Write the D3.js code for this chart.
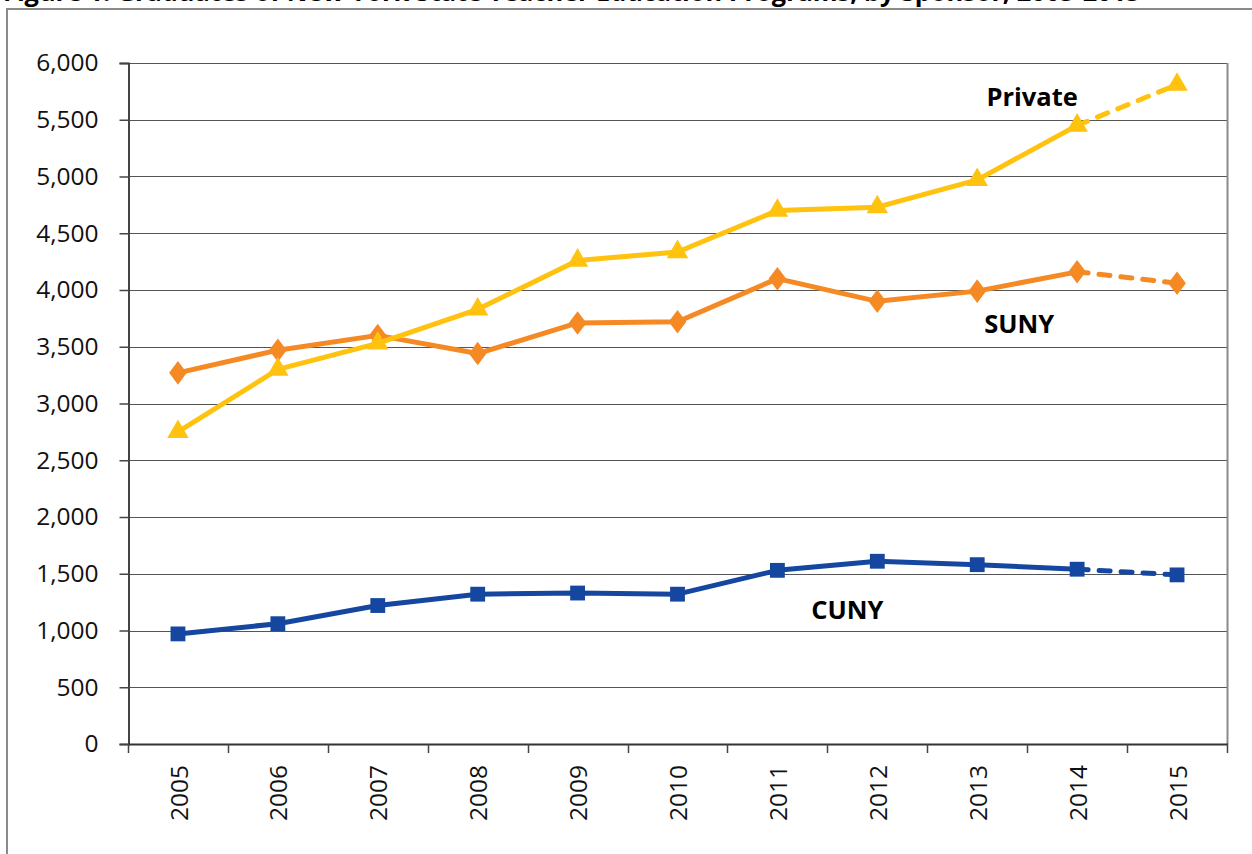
<!DOCTYPE html>
<html lang="en">
<head>
  <meta charset="UTF-8">
  <title>Graduates by Sponsor</title>
  <style>
    body { margin: 0; background: #fff; }
    svg { display: block; font-family: "Open Sans", sans-serif; }
  </style>
</head>
<body>
<svg width="1252" height="854"></svg>

<script src="https://cdn.jsdelivr.net/npm/d3@7"></script>
<script>
  // data
  var years = ['2005', '2006', '2007', '2008', '2009', '2010', '2011', '2012', '2013', '2014', '2015'];
  var cuny = [970, 1060, 1220, 1320, 1330, 1320, 1530, 1610, 1580, 1540, 1490];
  var suny = [3270, 3470, 3600, 3440, 3710, 3720, 4100, 3900, 3990, 4160, 4060];
  var priv = [2750, 3300, 3530, 3830, 4260, 4335, 4700, 4730, 4970, 5450, 5810];
  var yTicks = [0, 500, 1000, 1500, 2000, 2500, 3000, 3500, 4000, 4500, 5000, 5500, 6000];
  var title = 'Figure 1. Graduates of New York State Teacher Education Programs, by Sponsor, 2005-2015';

  var svg = d3.select('svg');
  var plot = {left: 128, right: 1227, top: 63, bottom: 744};

  var x = d3.scaleBand().domain(years).range([plot.left, plot.right]).padding(0);
  var y = d3.scaleLinear().domain([0, 6000]).range([plot.bottom, plot.top]);
  var cx = function (yr) { return x(yr) + x.bandwidth() / 2; };

  // title, mostly clipped off the top like the original
  svg.append('text').attr('x', 3).attr('y', 0.5)
    .attr('font-weight', 'bold').attr('font-size', 25.3).attr('fill', '#000')
    .text(title);

  // outer frame
  svg.append('path').attr('d', 'M7,854 V9 H1252')
    .attr('fill', 'none').attr('stroke', '#8a8a8a').attr('stroke-width', 2);

  // gridlines
  svg.append('g').selectAll('line').data(yTicks).enter().append('line')
    .attr('x1', plot.left).attr('x2', plot.right)
    .attr('y1', function (d) { return Math.round(y(d)) + 0.5; })
    .attr('y2', function (d) { return Math.round(y(d)) + 0.5; })
    .attr('stroke', '#555').attr('stroke-width', 1.2);

  // right edge of plot
  svg.append('line').attr('x1', plot.right + 0.5).attr('x2', plot.right + 0.5)
    .attr('y1', plot.top).attr('y2', plot.bottom)
    .attr('stroke', '#8a8a8a').attr('stroke-width', 2);

  // y axis
  var yAxis = d3.axisLeft(y).tickValues(yTicks).tickSize(9).tickPadding(21)
    .tickFormat(d3.format(','));
  var gy = svg.append('g').attr('transform', 'translate(' + (plot.left + 0.5) + ',0)').call(yAxis);
  gy.select('.domain').attr('stroke', '#444').attr('stroke-width', 2);
  gy.selectAll('.tick line').attr('stroke', '#444').attr('stroke-width', 1.5);
  gy.selectAll('.tick text').attr('font-size', 24.5).attr('fill', '#111')
    .attr('font-family', '"Open Sans", sans-serif');

  // x axis: ticks at band edges, labels rotated
  var gx = svg.append('g');
  gx.append('line').attr('x1', plot.left).attr('x2', plot.right + 1)
    .attr('y1', plot.bottom + 0.5).attr('y2', plot.bottom + 0.5)
    .attr('stroke', '#333').attr('stroke-width', 2);
  var edges = years.map(function (d) { return x(d); }).concat([plot.right]);
  gx.selectAll('line.tk').data(edges).enter().append('line').attr('class', 'tk')
    .attr('x1', function (d) { return Math.round(d) + 0.5; })
    .attr('x2', function (d) { return Math.round(d) + 0.5; })
    .attr('y1', plot.bottom).attr('y2', plot.bottom + 9)
    .attr('stroke', '#444').attr('stroke-width', 1.5);
  gx.selectAll('text').data(years).enter().append('text')
    .attr('transform', function (d) { return 'translate(' + (cx(d) + 1) + ',' + (plot.bottom + 21) + ') rotate(-90)'; })
    .attr('text-anchor', 'end').attr('dy', '0.35em')
    .attr('font-size', 24.5).attr('fill', '#111')
    .text(function (d) { return d; });

  // series
  var series = [
    {name: 'CUNY', values: cuny, color: '#1547a0', shape: d3.symbolSquare, size: 220},
    {name: 'SUNY', values: suny, color: '#f58a25', shape: d3.symbolDiamond, size: 160},
    {name: 'Private', values: priv, color: '#ffc20e', shape: d3.symbolTriangle, size: 200}
  ];
  var line = d3.line().x(function (d) { return cx(d.yr); }).y(function (d) { return y(d.v); });

  series.forEach(function (s) {
    var pts = years.map(function (yr, i) { return {yr: yr, v: s.values[i]}; });
    var g = svg.append('g');
    g.append('path').attr('d', line(pts.slice(0, pts.length - 1)))
      .attr('fill', 'none').attr('stroke', s.color).attr('stroke-width', 5)
      .attr('stroke-linejoin', 'round');
    g.append('path').attr('d', line(pts.slice(pts.length - 2)))
      .attr('fill', 'none').attr('stroke', s.color).attr('stroke-width', 5)
      .attr('stroke-dasharray', '11,11').attr('stroke-linecap', 'round');
    g.selectAll('path.m').data(pts).enter().append('path').attr('class', 'm')
      .attr('d', d3.symbol().type(s.shape).size(s.size))
      .attr('transform', function (d) {
        var sy = s.shape === d3.symbolDiamond ? ' scale(1.3,1)' : '';
        return 'translate(' + cx(d.yr) + ',' + y(d.v) + ')' + sy;
      })
      .attr('fill', s.color);
  });

  // series labels
  var labels = [
    {text: 'Private', yr: 2013.55, v: 5620},
    {text: 'SUNY', yr: 2013.42, v: 3620},
    {text: 'CUNY', yr: 2011.70, v: 1100}
  ];
  var xYear = d3.scaleLinear().domain([2005, 2015]).range([cx('2005'), cx('2015')]);
  svg.append('g').selectAll('text').data(labels).enter().append('text')
    .attr('x', function (d) { return xYear(d.yr); })
    .attr('y', function (d) { return y(d.v); })
    .attr('text-anchor', 'middle').attr('font-weight', 'bold').attr('font-size', 25.5)
    .attr('fill', '#000')
    .text(function (d) { return d.text; });
</script>
</body>
</html>
